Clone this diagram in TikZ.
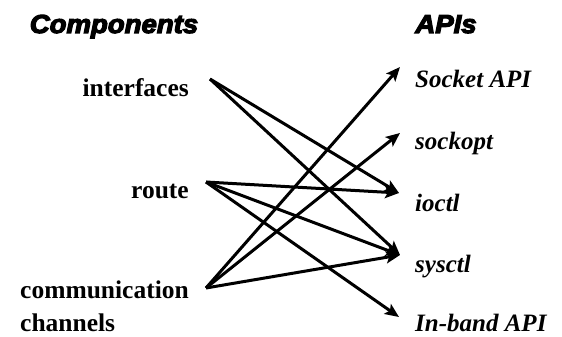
\documentclass[tikz,border=0pt]{standalone}
\usepackage{fontspec}
\setmainfont{Liberation Serif}
\newfontface\headfont{Liberation Sans Bold Italic}[FakeBold=4.5]
\usetikzlibrary{arrows.meta}
\begin{document}
\begin{tikzpicture}[x=1pt,y=-1pt,
  lab/.style={font=\fontsize{25.5}{33}\selectfont\bfseries, inner sep=0pt},
  api/.style={font=\fontsize{25}{30}\selectfont\bfseries\itshape, inner sep=0pt},
  head/.style={font=\fontsize{26}{30}\selectfont\headfont, inner sep=0pt, xscale=1.06},
  link/.style={line width=3pt, -{Stealth[length=14pt,width=12pt,inset=3pt]}}]
\useasboundingbox (0,0) rectangle (562,337);
% headers
\node[head, anchor=base] (hcomp) at (114,33) {Components};
\node[head, anchor=base] (hapi) at (446,33) {APIs};
% components
\node[lab, anchor=base east] (interfaces) at (189,96) {interfaces};
\node[lab, anchor=base east] (route) at (189,198) {route};
\node[lab, anchor=base east] (comm) at (189,298) {\begin{tabular}[t]{@{}l@{}}communication\\channels\end{tabular}};
% APIs
\node[api, anchor=base west] (sock) at (415,87) {Socket API};
\node[api, anchor=base west] (opt) at (415,149) {sockopt};
\node[api, anchor=base west] (ioctl) at (415,211) {ioctl};
\node[api, anchor=base west] (sys) at (415,272) {sysctl};
\node[api, anchor=base west] (band) at (415,331) {In-band API};
% connector ends
\coordinate (iS) at (210,79);
\coordinate (rS) at (206,182);
\coordinate (cS) at (206,288);
\coordinate (tSock) at (400,67);
\coordinate (tOpt) at (400,133);
\coordinate (tIoctl) at (399,193);
\coordinate (tSys) at (400,255);
\coordinate (tBand) at (399,317);
% connectors
\draw[link] (iS) -- (tIoctl);
\draw[link] (iS) -- (tSys);
\draw[link] (rS) -- (tIoctl);
\draw[link] (rS) -- (tSys);
\draw[link] (rS) -- (tBand);
\draw[link] (cS) -- (tSock);
\draw[link] (cS) -- (tOpt);
\draw[link] (cS) -- (tSys);
\end{tikzpicture}
\end{document}
